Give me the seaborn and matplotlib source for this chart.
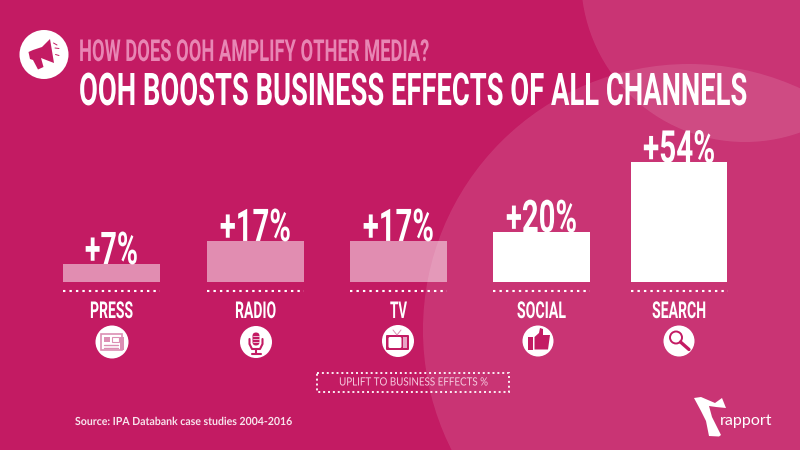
import matplotlib
matplotlib.use("Agg")
import matplotlib.pyplot as plt
import pandas as pd
import seaborn as sns
from matplotlib.patches import Circle, Rectangle, Polygon, FancyBboxPatch
from matplotlib.patheffects import AbstractPathEffect
from matplotlib.transforms import Affine2D

# ---- data ----
channels = ["PRESS", "RADIO", "TV", "SOCIAL", "SEARCH"]
uplift_labels = [7, 17, 17, 20, 54]             # printed percentages
bar_heights = [7.3, 16.9, 16.9, 20.6, 49.6]     # bar heights as drawn in the picture
faded_channels = ["PRESS", "RADIO", "TV"]

title_top = "HOW DOES OOH AMPLIFY OTHER MEDIA?"
title_main = "OOH BOOSTS BUSINESS EFFECTS OF ALL CHANNELS"
caption = "UPLIFT TO BUSINESS EFFECTS %"
source = "Source: IPA Databank case studies 2004-2016"
brand = "rapport"

BG = "#C31B63"
PINK = "#E886B4"
INK = "#C31B63"

sns.set_theme(style="white")
plt.rcParams["font.family"] = ["Roboto", "DejaVu Sans"]

fig = plt.figure(figsize=(8, 4.5), dpi=100, facecolor=BG)
renderer = fig.canvas.get_renderer()

# decoration layer in picture pixels
deco = fig.add_axes([0, 0, 1, 1], zorder=0)
deco.set_xlim(0, 800)
deco.set_ylim(450, 0)
deco.axis("off")

for cx, cy, r in [(745, -22, 164), (689, 330, 266)]:
    deco.add_patch(Circle((cx, cy), r, fc="white", ec="none", alpha=0.115))

# bars
UNIT = 142.1      # px per category
PX_PER_PCT = 2.4
BASE_Y = 281.5
X0 = 112.9
ax_left = X0 - UNIT / 2
ax_h_units = 60
ax = fig.add_axes([ax_left / 800, (450 - BASE_Y) / 450, UNIT * 5 / 800,
                   ax_h_units * PX_PER_PCT / 450], zorder=1)
df = pd.DataFrame({"channel": channels, "height": bar_heights})
sns.barplot(data=df, x="channel", y="height", order=channels, color="white",
            saturation=1, width=97 / UNIT, ax=ax)
ax.set_xlim(-0.5, 4.5)
ax.set_ylim(0, ax_h_units)
ax.axis("off")
ax.patch.set_alpha(0)

centres_px = [111.5, 255.5, 398.5, 541.5, 679.0]
for i, (p, name, cpx) in enumerate(zip(ax.patches, channels, centres_px)):
    p.set_x(p.get_x() + (cpx - (X0 + i * UNIT)) / UNIT)
    if name in faded_channels:
        p.set_alpha(0.5)
    p.set_linewidth(0)


class Stretch(AbstractPathEffect):
    """Stretches text glyphs vertically so wide fonts read as condensed."""
    def __init__(self, sy):
        super().__init__()
        self.sy = sy

    def draw_path(self, rend, gc, tpath, affine, rgbFace=None):
        rend.draw_path(gc, tpath, Affine2D().scale(1, self.sy) + affine, rgbFace)


def tall_text(axes, x, y, s, width_px, cap_px, color="white", ha="center", weight="bold",
              family="Roboto", cap_ratio=0.711):
    t = axes.text(x, y, s, ha=ha, va="baseline", color=color, fontsize=40,
                  fontweight=weight, family=[family, "DejaVu Sans"], clip_on=False)
    w = t.get_window_extent(renderer=renderer).width
    size = 40 * width_px / w
    t.set_fontsize(size)
    t.set_path_effects([Stretch(cap_px / (cap_ratio * size * 100 / 72))])
    return t


# titles
tall_text(deco, 79, 61, title_top, 350, 21.5, color=PINK, ha="left")
tall_text(deco, 79, 105, title_main, 668, 32, ha="left")

# value labels sit on the bars
value_widths = [53, 71, 71, 71, 72]
for p, v, w in zip(ax.patches, uplift_labels, value_widths):
    tall_text(ax, p.get_x() + p.get_width() / 2, p.get_height(), f"+{v}%", w, 32)

# dotted base lines, category names
name_widths = [43, 41, 17, 49, 54]
for name, c, w in zip(channels, centres_px, name_widths):
    deco.plot([c - 48.5, c + 48.5], [291, 291], color="white", lw=1.5,
              ls=(0, (1.15, 1.95)), dash_capstyle="butt")
    tall_text(deco, c, 318, name, w, 16.5)

# icon discs
WHITE = "white"
deco.add_patch(Circle((44, 54.5), 24.5, fc=WHITE, ec="none"))
icon_xy = [(112, 342), (256, 342), (398, 341), (538, 341), (679, 341)]
icon_r = [16.5, 16, 16, 15.5, 15.5]
for xy, r in zip(icon_xy, icon_r):
    deco.add_patch(Circle(xy, r, fc=WHITE, ec="none"))

# megaphone
deco.add_patch(Polygon([(50, 39), (54, 63), (41, 58), (43.5, 67), (38, 69.5), (33, 60),
                        (30, 59), (28.5, 52), (33, 50), (42, 47)], fc=INK, ec="none"))
for a, b in [((53.5, 43), (57, 45)), ((55, 48), (59, 48.5)), ((55.5, 54.5), (59, 55.5))]:
    deco.plot(*zip(a, b), color=INK, lw=0.7)

# newspaper
NP = "#DC8FB4"
deco.add_patch(Rectangle((101, 334), 21, 16, fc="none", ec=NP, lw=1.2))
deco.add_patch(Rectangle((120, 337), 3.5, 13, fc=NP, ec="none"))
deco.add_patch(Rectangle((104, 337), 6, 5, fc=NP, ec="none"))
deco.add_patch(Rectangle((111.5, 337), 7, 5, fc="none", ec=NP, lw=0.8))
for yy in (344.5, 347.5):
    deco.plot([104, 118], [yy, yy], color=NP, lw=1.0)

# microphone
deco.add_patch(FancyBboxPatch((252.5, 332.5), 7, 13, boxstyle="round,pad=0,rounding_size=3.5",
                              fc=INK, ec="none"))
for yy in (336, 339, 342):
    deco.plot([253, 259], [yy, yy], color=WHITE, lw=0.5)
deco.plot([249.5, 249.5, 252, 260, 262.5, 262.5], [339, 344, 349, 349, 344, 339], color=INK, lw=1.5)
deco.plot([256, 256], [349, 353], color=INK, lw=1.5)
deco.plot([251.5, 260.5], [353.5, 353.5], color=INK, lw=1.5)

# television
deco.add_patch(FancyBboxPatch((386, 335), 23, 15, boxstyle="round,pad=0,rounding_size=1",
                              fc=INK, ec="none"))
deco.add_patch(FancyBboxPatch((388.5, 337), 13, 11, boxstyle="round,pad=0,rounding_size=1.5",
                              fc=WHITE, ec="none"))
deco.add_patch(Rectangle((403, 337), 4, 11, fc="#E8A6C6", ec="none"))
deco.plot([393, 397, 401], [330, 335, 330], color="#DC8FB4", lw=0.7)

# thumbs up
deco.add_patch(Rectangle((528, 337), 5, 12.5, fc=INK, ec="none"))
deco.add_patch(Polygon([(534.5, 337), (539, 333), (540, 328), (543, 329), (543, 335),
                        (550, 335), (548, 349.5), (534.5, 349.5)], fc=INK, ec="none"))

# magnifier
deco.add_patch(Circle((676, 337.5), 6, fc="none", ec=INK, lw=1.4))
deco.plot([680.5, 689], [342, 349.5], color=INK, lw=2.4, solid_capstyle="round")

# caption box + source
deco.add_patch(Rectangle((317, 373), 192, 19, fc="none", ec="white", lw=1.3, ls=(0, (1.1, 1.6))))
tall_text(deco, 412.5, 385.5, caption, 149, 8.2, color="#F6CADF", weight="normal",
          family="Lato", cap_ratio=0.72)
tall_text(deco, 75, 425, source, 217, 8.0, color="#F8E3EC", ha="left",
          family="Lato", cap_ratio=0.72)

# logo
deco.add_patch(Polygon([(694, 398), (701, 397), (715, 403), (722, 398), (726, 408), (716, 407),
                        (709, 406), (712, 417), (721, 435), (719, 436.5), (709, 436), (708, 431),
                        (706, 421), (701, 411)], fc="white", ec="none"))
deco.text(720, 424.5, brand, ha="left", va="baseline", color="white", fontsize=11.5,
          family=["Lato", "DejaVu Sans"])

fig.savefig("out.png", dpi=100, facecolor=BG)
